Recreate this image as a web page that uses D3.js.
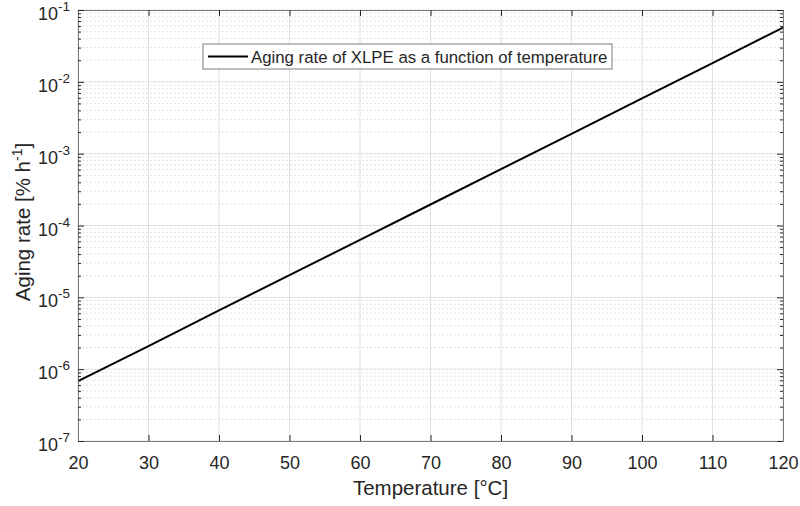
<!DOCTYPE html>
<html>
<head>
<meta charset="utf-8">
<script src="https://cdn.jsdelivr.net/npm/d3@7"></script>
<style>
  body { margin: 0; background: #fff; }
  text { font-family: "Liberation Sans", Arial, sans-serif; fill: #262626; }
</style>
</head>
<body>
<svg id="chart" width="800" height="506"></svg>
<script>
// data
var temps = [20, 30, 40, 50, 60, 70, 80, 90, 100, 110, 120];
var rates = [6.8e-7, 2.1e-6, 6.6e-6, 2.04e-5, 6.3e-5, 1.96e-4, 6.1e-4, 1.89e-3, 5.9e-3, 1.82e-2, 5.7e-2];
var xTicks = [20, 30, 40, 50, 60, 70, 80, 90, 100, 110, 120];
var yExps = [-7, -6, -5, -4, -3, -2, -1];
var legendLabel = "Aging rate of XLPE as a function of temperature";

var svg = d3.select("#chart");
var margin = { left: 78, right: 17, top: 10, bottom: 65 };
var width = 800 - margin.left - margin.right;
var height = 506 - margin.top - margin.bottom;

var x = d3.scaleLinear().domain([20, 120]).range([0, width]);
var y = d3.scaleLog().domain([1e-7, 1e-1]).range([height, 0]);

var g = svg.append("g").attr("transform", "translate(" + margin.left + "," + margin.top + ")");

// minor y values
var minor = [];
yExps.slice(0, -1).forEach(function(e) {
  for (var k = 2; k <= 9; k++) minor.push(k * Math.pow(10, e));
});

// grid
g.selectAll(".minorGrid").data(minor).enter().append("line")
  .attr("x1", 0).attr("x2", width)
  .attr("y1", function(d) { return y(d); }).attr("y2", function(d) { return y(d); })
  .attr("stroke", "#e3e3e3").attr("stroke-dasharray", "2,2").attr("stroke-width", 1);
g.selectAll(".majorGridY").data(yExps).enter().append("line")
  .attr("x1", 0).attr("x2", width)
  .attr("y1", function(d) { return y(Math.pow(10, d)); }).attr("y2", function(d) { return y(Math.pow(10, d)); })
  .attr("stroke", "#e0e0e0").attr("stroke-width", 1);
g.selectAll(".majorGridX").data(xTicks).enter().append("line")
  .attr("x1", function(d) { return x(d); }).attr("x2", function(d) { return x(d); })
  .attr("y1", 0).attr("y2", height)
  .attr("stroke", "#e0e0e0").attr("stroke-width", 1);

// the line
var line = d3.line().x(function(d, i) { return x(temps[i]); }).y(function(d) { return y(d); });
g.append("path").datum(rates)
  .attr("d", line)
  .attr("fill", "none").attr("stroke", "#000").attr("stroke-width", 2);

// axes (MATLAB-like, inward ticks, box)
var axisColor = "#262626";
var xAxis = d3.axisBottom(x).tickValues(xTicks).tickSizeInner(-6).tickSizeOuter(0).tickPadding(15);
var gx = g.append("g").attr("transform", "translate(0," + height + ")").call(xAxis);
gx.selectAll("text").style("font-size", "18px").attr("fill", axisColor);
gx.select(".domain").attr("stroke", "#7a7a7a");
gx.selectAll(".tick line").attr("stroke", axisColor);

var gxTop = g.append("g").call(d3.axisTop(x).tickValues(xTicks).tickSizeInner(-6).tickSizeOuter(0).tickFormat(""));
gxTop.select(".domain").attr("stroke", "#7a7a7a");
gxTop.selectAll(".tick line").attr("stroke", axisColor);

var majorVals = yExps.map(function(e) { return Math.pow(10, e); });
var gy = g.append("g").call(d3.axisLeft(y).tickValues(majorVals).tickSizeInner(-6).tickSizeOuter(0).tickFormat(""));
gy.select(".domain").attr("stroke", "#7a7a7a");
gy.selectAll(".tick line").attr("stroke", axisColor);
var gyMinor = g.append("g").call(d3.axisLeft(y).tickValues(minor).tickSizeInner(-3).tickSizeOuter(0).tickFormat(""));
gyMinor.select(".domain").remove();
gyMinor.selectAll(".tick line").attr("stroke", axisColor);

var gyR = g.append("g").attr("transform", "translate(" + width + ",0)")
  .call(d3.axisRight(y).tickValues(majorVals).tickSizeInner(-6).tickSizeOuter(0).tickFormat(""));
gyR.select(".domain").attr("stroke", "#7a7a7a");
gyR.selectAll(".tick line").attr("stroke", axisColor);
var gyRMinor = g.append("g").attr("transform", "translate(" + width + ",0)")
  .call(d3.axisRight(y).tickValues(minor).tickSizeInner(-3).tickSizeOuter(0).tickFormat(""));
gyRMinor.select(".domain").remove();
gyRMinor.selectAll(".tick line").attr("stroke", axisColor);

// y tick labels 10^n
var yl = g.selectAll(".ylab").data(yExps).enter().append("text")
  .attr("x", -8).attr("y", function(d) { return y(Math.pow(10, d)) + 10; })
  .attr("text-anchor", "end").style("font-size", "18px");
yl.append("tspan").text("10");
yl.append("tspan").attr("dy", -9).style("font-size", "13.5px").text(function(d) { return d; });

// axis titles
svg.append("text")
  .attr("x", margin.left + width / 2).attr("y", 495)
  .attr("text-anchor", "middle").style("font-size", "20.5px")
  .text("Temperature [°C]");
var yt = svg.append("text")
  .attr("transform", "translate(30," + 222 + ") rotate(-90)")
  .attr("text-anchor", "middle").style("font-size", "20.5px");
yt.append("tspan").text("Aging rate [% h");
yt.append("tspan").attr("dy", -8).style("font-size", "14px").text("-1");
yt.append("tspan").attr("dy", 8).text("]");

// legend
var lg = svg.append("g").attr("transform", "translate(203,44)");
lg.append("rect").attr("width", 409).attr("height", 25)
  .attr("fill", "#fff").attr("stroke", "#7a7a7a").attr("stroke-width", 1);
lg.append("line").attr("x1", 5).attr("x2", 45).attr("y1", 12.5).attr("y2", 12.5)
  .attr("stroke", "#000").attr("stroke-width", 2);
lg.append("text").attr("x", 48).attr("y", 18.5).style("font-size", "16.8px").attr("fill", "#000")
  .text(legendLabel);
</script>
</body>
</html>
